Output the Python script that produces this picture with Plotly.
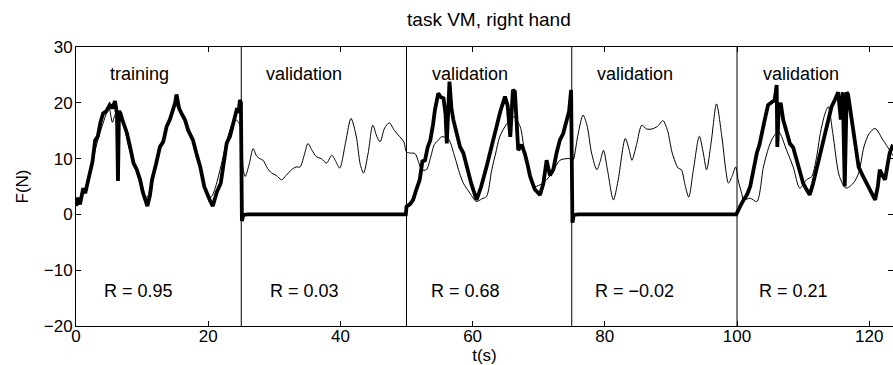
import plotly.graph_objects as go

# ---- data ----
title_text = "task VM, right hand"
segment_bounds = [25, 50, 75, 100]
segment_labels = ["training", "validation", "validation", "validation", "validation"]
segment_label_x = [4.8, 28.4, 53.5, 78.5, 103.6]
r_labels = ["R = 0.95", "R = 0.03", "R = 0.68", "R = \u22120.02", "R = 0.21"]
r_label_x = [3.9, 29.0, 53.4, 78.2, 103.0]
segment_label_y = 25.2
r_label_y = -13.8

# measured force (thick)
meas_t = [0, 0.3, 0.6, 0.9, 1.1, 1.4, 1.7, 2.1, 2.5, 2.9, 3.3, 3.7, 4.1, 4.6, 5.1, 5.5, 5.9, 6.2, 6.35, 6.5,
          6.7, 7.0, 7.3, 7.7, 8.2, 8.7, 9.2, 9.7, 10.1, 10.4, 10.8, 11.2, 11.5, 12.1, 12.7, 13.2, 13.7, 14.2,
          14.7, 15.0, 15.2, 15.6, 16.0, 16.5, 17.0, 17.4, 17.7, 18.2, 18.8, 19.4, 20.0, 20.3, 20.7, 21.3, 21.9,
          22.3, 22.8, 23.3, 23.8, 24.3, 24.6, 24.8, 24.95, 25.0,
          25.1, 25.3, 26.0, 49.9,
          50.0, 50.5, 51.0, 51.5, 52.0, 52.4, 52.8, 53.2, 53.6, 54.0, 54.3, 54.8, 55.2, 55.6, 55.9, 56.1, 56.3,
          56.5, 56.8, 57.1, 57.6, 58.1, 58.6, 59.1, 59.8, 60.6, 61.3, 62.1, 62.8, 63.6, 64.2, 64.9, 65.3, 65.7,
          66.1, 66.4, 66.7, 66.9, 67.4, 67.9, 68.3, 68.7, 69.4, 70.2, 70.7, 71.2, 71.7, 72.2, 72.7, 73.2, 73.7,
          74.2, 74.6, 74.9, 75.0,
          75.1, 75.3, 76.0, 99.9,
          100.0, 100.5, 101.0, 101.5, 102.0, 102.5, 103.0, 103.4, 103.7, 104.2, 104.7, 105.2, 105.7, 106.0,
          106.1, 106.3, 106.6, 107.0, 107.5, 108.0, 108.5, 109.0, 109.5, 110.0, 110.5, 111.0, 111.5, 112.1,
          112.7, 113.3, 113.8, 114.3, 114.8, 115.3, 115.7, 116.0, 116.3, 116.6, 116.8, 117.2, 117.6, 118.0,
          118.4, 119.0, 119.6, 120.3, 120.9, 121.3, 121.6, 122.0, 122.4, 122.8, 123.1, 123.6]
meas_f = [1.5, 3, 1.8, 4.2, 4.7, 3.8, 5.5, 7.7, 9.5, 13.3, 14, 16.5, 18.1, 18.5, 19.6, 19, 20.3, 18, 6.0, 18.5,
          18.2, 17, 16, 14.6, 12, 9.2, 8, 6.2, 4, 2.9, 1.5, 3.5, 6.2, 9, 12.1, 13, 15.7, 17,
          18.7, 20, 21.5, 19, 18, 16.9, 15, 14, 13.3, 11, 8.5, 5, 3, 2.4, 1.5, 4, 5.6,
          8.5, 12.8, 14, 16.5, 18.7, 18.5, 20.5, 20.0, 0,
          -1.2, -0.1, 0, 0,
          1.4, 1.8, 2.6, 4.5, 6.2, 9.5, 9.7, 12, 13.3, 16, 18.7, 21.7, 21, 20.8, 18, 12.7, 20,
          23.8, 19, 16.9, 14.5, 12.1, 11, 8.5, 5.5, 2.6, 5, 8.5, 12, 15.7, 18.5, 21.1, 19.5, 13.9,
          22.3, 22.0, 14, 11.5, 12.5, 10.9, 9, 6.8, 4.5, 3.5, 5.5, 9.7, 7, 8.0, 11, 13.3, 14.5,
          16.9, 18.5, 22.3, 0,
          -1.5, -0.1, 0, 0,
          0.3, 1.5, 2.6, 3.5, 5.0, 8, 11.0, 12.5, 14.5, 17, 19.6, 20, 20.5, 23.2,
          12.1, 19, 20, 16.9, 14.5, 12.7, 12, 9.7, 7.5, 5.6, 4.5, 3.5, 5.5, 8.5,
          12, 14.5, 17, 19.3, 20.5, 21.9, 17, 21.9, 5.0, 21.9, 21.5, 18, 15.7, 12,
          8.5, 7, 5.6, 4, 2.6, 5, 8.0, 7, 6.2, 9, 11.0, 12.5]

# predicted force (thin)
pred_t = [0, 1, 2, 3, 4, 5, 5.5, 6, 6.5, 7, 8, 9, 10, 10.5, 11, 12, 13, 14, 15, 16, 17, 18, 19, 20, 20.5, 21,
          22, 23, 24, 24.6, 25.0, 25.3,
          25.6, 26.2, 26.8, 27.3, 27.8, 28.3, 29.0, 29.6, 30.3, 31.1, 31.8, 32.6, 33.3, 33.9, 34.5, 35.1, 35.7,
          36.4, 37.1, 37.9, 38.7, 39.3, 39.9, 40.8, 41.6, 42.4, 43.0, 43.5, 44.2, 44.9, 45.5, 46.0, 46.7, 47.4,
          48.2, 49.0, 49.6, 50.0,
          50.6, 51.3, 51.8, 52.3, 53.0, 53.6, 54.2, 54.8, 55.3, 56.3, 57.3, 58.0, 58.6, 59.6, 60.6, 61.4, 62.1,
          62.9, 63.5, 64.1, 65.2, 66.2, 67.2, 67.7, 68.2, 69.2, 70.2, 71.2, 72.2, 73.2, 74.7, 75.0,
          75.2, 75.9, 76.7, 77.3, 78.0, 78.8, 79.3, 79.8, 80.4, 81.3, 82.0, 83.1, 83.7, 84.1, 84.8, 85.6, 86.3,
          87.1, 88.0, 88.8, 89.5, 90.2, 91.1, 91.6, 92.1, 92.7, 93.4, 94.3, 94.9, 95.4, 96.1, 96.9, 97.7, 98.3,
          98.7, 99.3, 99.8, 100.2, 100.7,
          101.0, 102.0, 103.0, 104.0, 104.8, 105.5, 106.3, 107.5, 108.5, 109.5, 110.5, 111.3, 112.0, 112.6,
          113.3, 113.8, 114.5, 115.5, 116.5, 117.6, 118.4, 119.2, 120.0, 120.9, 122.1, 123.1, 123.6]
pred_f = [2, 3.5, 7, 12, 16, 19, 16.5, 18, 17.5, 17, 12, 8.5, 5, 3, 3.5, 8, 13, 16.5, 19.5, 18, 15, 12, 7, 3, 3.2, 4.5,
          9, 14, 17, 16.5, 15, 8,
          6.8, 9, 11.8, 10.5, 10.0, 9.7, 8.2, 7.4, 7.0, 6.2, 7, 8.0, 8.5, 8.5, 10.5, 12.7, 11.5,
          10.3, 10, 9.2, 10.6, 9.5, 8.3, 13, 17.2, 14, 9, 7.4, 11, 16.0, 14, 13.0, 15.5, 16.4,
          15, 13.9, 13, 11.2,
          11, 10.9, 9.5, 8.0, 8, 10, 12.5, 13.3, 13.9, 13.6, 10.3, 7.5, 5.6, 3.8, 2.3, 2.8, 3.2,
          8.0, 11, 13.9, 16.3, 17.5, 15.7, 12.5, 9.2, 5.0, 5.3, 6.2, 7.8, 9.7, 10.0, 9.8,
          9.7, 14, 17.8, 16, 11, 8.0, 9.5, 11.5, 8, 2.6, 6, 13.6, 11.5, 9.7, 12.5, 16.0, 15.3,
          15.3, 15.8, 16.8, 15, 11, 8.3, 8.0, 5.5, 3.1, 8, 14.0, 11, 8.0, 13, 19.8, 14, 8,
          5.6, 7, 8.5, 6, 3.8,
          2.6, 2.9, 2.3, 8.5, 12, 13.9, 14.8, 11.5, 8.5, 4.7, 6.2, 6.8, 10, 14.5,
          18, 19.3, 14.5, 6.8, 4.7, 5.6, 7.4, 12.1, 14.5, 15.4, 13.3, 11.5, 10.5]

x_ticks = [0, 20, 40, 60, 80, 100, 120]
y_ticks = [-20, -10, 0, 10, 20, 30]
x_range = [0, 123.6]
y_range = [-20, 30]

FONT = "Liberation Sans, Arial, Helvetica, sans-serif"
FS = 18

fig = go.Figure()
fig.add_trace(go.Scatter(x=pred_t, y=pred_f, mode="lines",
                         line=dict(color="black", width=1, shape="spline", smoothing=0.8),
                         showlegend=False, hoverinfo="skip"))
fig.add_trace(go.Scatter(x=meas_t, y=meas_f, mode="lines",
                         line=dict(color="black", width=3.8),
                         showlegend=False, hoverinfo="skip"))

for b in segment_bounds:
    fig.add_shape(type="line", x0=b, x1=b, y0=y_range[0], y1=y_range[1],
                  xref="x", yref="y", line=dict(color="black", width=1), layer="below")

for lab, xx in zip(segment_labels, segment_label_x):
    fig.add_annotation(x=xx, y=segment_label_y, text=lab, showarrow=False,
                       xanchor="left", yanchor="middle", font=dict(size=FS, color="black", family=FONT))
for lab, xx in zip(r_labels, r_label_x):
    fig.add_annotation(x=xx, y=r_label_y, text=lab, showarrow=False,
                       xanchor="left", yanchor="middle", font=dict(size=FS, color="black", family=FONT))

axis_common = dict(showline=True, linecolor="black", linewidth=1, mirror="ticks",
                   ticks="inside", ticklen=5, tickcolor="black", showgrid=False, zeroline=False,
                   tickfont=dict(size=FS - 1, color="black", family=FONT))

fig.update_layout(
    width=893, height=365,
    margin=dict(l=76, r=0, t=47, b=39),
    paper_bgcolor="white", plot_bgcolor="white",
    title=dict(text=title_text, x=0.5475, xanchor="center", y=1 - 19 / 365, yanchor="middle",
               yref="container", font=dict(size=FS + 1, color="black", family=FONT)),
    xaxis=dict(range=x_range, tickvals=x_ticks, ticklabelstandoff=-5,
               title=dict(text="t(s)", standoff=0, font=dict(size=FS - 1, color="black", family=FONT)),
               **axis_common),
    yaxis=dict(range=y_range, tickvals=y_ticks, ticklabelstandoff=-1,
               title=dict(text="F(N)", standoff=10, font=dict(size=FS - 1, color="black", family=FONT)),
               **axis_common),
)

fig.write_html("out.html", config={"displayModeBar": False},
               post_script="document.body.style.margin='0';document.body.style.overflow='hidden';")
